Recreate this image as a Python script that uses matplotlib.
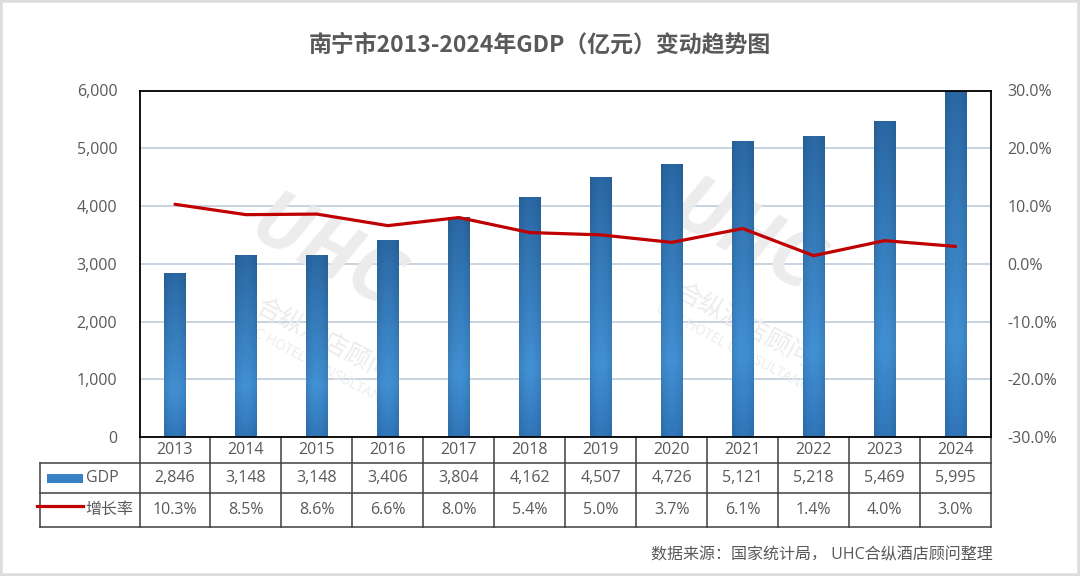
import matplotlib
matplotlib.use("Agg")
import matplotlib.pyplot as plt
import numpy as np
from matplotlib.lines import Line2D
from matplotlib.patches import Rectangle
import matplotlib.transforms as mtransforms

plt.rcParams['font.family'] = ['Open Sans', 'Noto Sans CJK SC', 'DejaVu Sans']

years = ['2013', '2014', '2015', '2016', '2017', '2018', '2019', '2020', '2021', '2022', '2023', '2024']
gdp = [2846, 3148, 3148, 3406, 3804, 4162, 4507, 4726, 5121, 5218, 5469, 5995]
growth = [10.3, 8.5, 8.6, 6.6, 8.0, 5.4, 5.0, 3.7, 6.1, 1.4, 4.0, 3.0]
left_ticks = [0, 1000, 2000, 3000, 4000, 5000, 6000]
right_ticks = [-30, -20, -10, 0, 10, 20, 30]
title = '南宁市2013-2024年GDP（亿元）变动趋势图'
source = '数据来源：国家统计局， UHC合纵酒店顾问整理'
bar_label = 'GDP'
line_label = '增长率'

W, H = 1080, 576
fig = plt.figure(figsize=(W / 100, H / 100), dpi=100)
fig.patch.set_facecolor('white')

ax_l, ax_r, ax_t, ax_b = 139.5, 991.0, 90.5, 437.0
ax = fig.add_axes([ax_l / W, 1 - ax_b / H, (ax_r - ax_l) / W, (ax_b - ax_t) / H])
ax.patch.set_facecolor('none')

txt_color = '#595959'
fs = 11.5

x = np.arange(len(years))
bars = ax.bar(x, gdp, width=0.31, color='#3379BC', zorder=2, linewidth=0)

# gradient fill for bars
ny, nx = 200, 40
t = np.linspace(0, 1, ny)[:, None]  # 0 top -> 1 bottom
c_top = np.array([0x2A, 0x68, 0xA4]) / 255
c_mid = np.array([0x42, 0x90, 0xD3]) / 255
c_bot = np.array([0x30, 0x76, 0xB9]) / 255
vert = np.where(t < 0.72,
                c_top + (c_mid - c_top) * (t / 0.72),
                c_mid + (c_bot - c_mid) * ((t - 0.72) / 0.28))
hx = np.linspace(-1, 1, nx)[None, :]
shade = 1 - 0.10 * hx ** 2
img = np.clip(vert[:, None, :] * shade[:, :, None] * np.ones((ny, nx, 1)), 0, 1)
for b in bars:
    bx, by, bw, bh = b.get_x(), b.get_y(), b.get_width(), b.get_height()
    im = ax.imshow(img, extent=[bx, bx + bw, by, by + bh], aspect='auto',
                   zorder=2.1, interpolation='bilinear')
    im.set_clip_path(b)

ax.set_xlim(-0.5, len(years) - 0.5)
ax.set_ylim(0, 6000)
ax.set_yticks(left_ticks)
ax.set_yticklabels([f'{v:,}' for v in left_ticks])
ax.set_xticks([])
ax.tick_params(axis='y', length=0, pad=16, labelsize=fs, labelcolor=txt_color)
ax.grid(axis='y', color='#B9C8D8', linewidth=1.1, zorder=0.5)
ax.set_axisbelow(True)
for s in ax.spines.values():
    s.set_color('#000000')
    s.set_linewidth(1.3)
    s.set_zorder(5)

ax2 = ax.twinx()
ax2.plot(x, growth, color='#C00000', linewidth=2.3, zorder=3, solid_capstyle='round')
ax2.set_ylim(-30, 30)
ax2.set_yticks(right_ticks)
ax2.set_yticklabels([f'{v:.1f}%' for v in right_ticks])
ax2.tick_params(axis='y', length=0, pad=12, labelsize=fs, labelcolor=txt_color)
for s in ax2.spines.values():
    s.set_visible(False)

# watermark
wm_color = '#ECECEC'
def ftxt(px, py, s, **kw):
    ax.text(px / W, 1 - py / H, s, transform=fig.transFigure, zorder=0.8,
            clip_on=False, ha='center', va='center', color=wm_color, **kw)
for cx, cy in [(325, 300), (745, 285)]:
    ftxt(cx, cy - 45, 'UHC', fontsize=56, fontweight='bold', style='italic', rotation=-28)
    ftxt(cx - 2, cy + 40, '合纵酒店顾问', fontsize=18, rotation=-28)
    ftxt(cx - 10, cy + 65, 'UHC HOTEL CONSULTANCY', fontsize=10, rotation=-28)

# data table
ah = ax_b - ax_t
def ay(py):
    return -(py - ax_b) / ah
trans = mtransforms.blended_transform_factory(ax.transData, ax.transAxes)
tl = ax.transAxes
r1, r2, r3 = ay(463.3), ay(492.7), ay(527.3)
x_left_ax = (40 - ax_l) / (ax_r - ax_l)
lc = '#404040'
lw = 1.1
for xb in np.arange(len(years) + 1) - 0.5:
    ax.add_line(Line2D([xb, xb], [0, r3], transform=trans, color=lc, lw=lw, clip_on=False))
for yy in (r1, r2, r3):
    ax.add_line(Line2D([x_left_ax, 1], [yy, yy], transform=tl, color=lc, lw=lw, clip_on=False))
ax.add_line(Line2D([x_left_ax, x_left_ax], [r1, r3], transform=tl, color=lc, lw=lw, clip_on=False))

yc_year, yc_gdp, yc_gr = ay(450), ay(478), ay(510)
for i in range(len(years)):
    ax.text(i, yc_year, years[i], transform=trans, ha='center', va='center',
            fontsize=fs, color=txt_color, clip_on=False)
    ax.text(i, yc_gdp, f'{gdp[i]:,}', transform=trans, ha='center', va='center',
            fontsize=fs, color=txt_color, clip_on=False)
    ax.text(i, yc_gr, f'{growth[i]:.1f}%', transform=trans, ha='center', va='center',
            fontsize=fs, color=txt_color, clip_on=False)

def axx(px):
    return (px - ax_l) / (ax_r - ax_l)
ax.add_patch(Rectangle((axx(46.5), ay(482.7)), axx(82.6) - axx(46.5), ay(474.3) - ay(482.7),
                       transform=tl, facecolor='#3A80C4', edgecolor='none', clip_on=False))
ax.add_line(Line2D([axx(37), axx(83)], [ay(506), ay(506)], transform=tl, color='#C00000',
                   lw=2.3, clip_on=False))
ax.text(axx(86), yc_gdp, bar_label, transform=tl, ha='left', va='center', fontsize=fs,
        color=txt_color, clip_on=False)
ax.text(axx(85), yc_gr, line_label, transform=tl, ha='left', va='center', fontsize=fs,
        color=txt_color, clip_on=False)

fig.text(0.5, 1 - 45 / H, title, ha='center', va='center', fontsize=16.5,
         fontweight='bold', color=txt_color, family=['Noto Sans CJK SC', 'DejaVu Sans'])
fig.text(993 / W, 1 - 555 / H, source, ha='right', va='center', fontsize=11.5,
         color=txt_color)

# outer border
fig.add_artist(Rectangle((0, 0), 1, 1, transform=fig.transFigure, fill=False,
                         edgecolor='#DCDCDC', linewidth=4, zorder=10))

fig.savefig('out.png', dpi=100, facecolor='white')
